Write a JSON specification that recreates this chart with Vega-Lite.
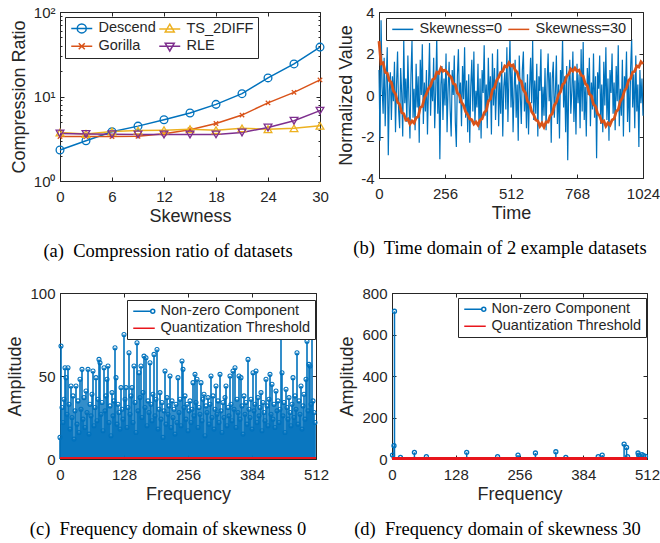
{
"$schema": "https://vega.github.io/schema/vega-lite/v6.json",
"padding": {"left": 6, "top": 4, "right": 0, "bottom": 0},
"background": "white",
"config": {
  "font": "Liberation Sans",
  "view": {"stroke": "#262626", "strokeWidth": 1},
  "axis": {"labelFont": "Liberation Sans", "labelFontSize": 15, "labelColor": "#262626", "titleFont": "Liberation Sans", "titleFontSize": 18, "titleFontWeight": "normal", "titleColor": "#262626", "tickColor": "#262626", "domainColor": "#262626", "tickSize": -4, "grid": false, "labelFlush": false, "labelOverlap": false},
  "axisX": {"labelPadding": 12, "titlePadding": 3},
  "axisY": {"labelPadding": 9, "titlePadding": 5},
  "legend": {"labelFont": "Liberation Sans", "labelFontSize": 14.5, "labelColor": "#262626", "strokeColor": "#262626", "fillColor": "white", "padding": 4, "title": null, "orient": "none", "symbolSize": 100, "symbolStrokeWidth": 1.5, "labelOffset": 15, "rowPadding": 2, "columnPadding": 0},
  "title": {"font": "Liberation Serif", "fontSize": 18.5, "fontWeight": "normal", "color": "black", "orient": "bottom", "offset": 17}
},
"datasets": {
  "ratio": [
    {"s":0,"m":"Descend","r":2.33},{"s":3,"m":"Descend","r":2.99},{"s":6,"m":"Descend","r":3.82},{"s":9,"m":"Descend","r":4.46},{"s":12,"m":"Descend","r":5.3},{"s":15,"m":"Descend","r":6.37},{"s":18,"m":"Descend","r":8.07},{"s":21,"m":"Descend","r":10.8},{"s":24,"m":"Descend","r":16.6},{"s":27,"m":"Descend","r":24.3},{"s":30,"m":"Descend","r":38.4},
    {"s":0,"m":"Gorilla","r":3.36},{"s":3,"m":"Gorilla","r":3.36},{"s":6,"m":"Gorilla","r":3.36},{"s":9,"m":"Gorilla","r":3.38},{"s":12,"m":"Gorilla","r":3.62},{"s":15,"m":"Gorilla","r":4.04},{"s":18,"m":"Gorilla","r":4.79},{"s":21,"m":"Gorilla","r":6.03},{"s":24,"m":"Gorilla","r":8.4},{"s":27,"m":"Gorilla","r":11.2},{"s":30,"m":"Gorilla","r":15.7},
    {"s":0,"m":"TS_2DIFF","r":3.75},{"s":3,"m":"TS_2DIFF","r":3.6},{"s":6,"m":"TS_2DIFF","r":3.86},{"s":9,"m":"TS_2DIFF","r":3.95},{"s":12,"m":"TS_2DIFF","r":4.0},{"s":15,"m":"TS_2DIFF","r":4.1},{"s":18,"m":"TS_2DIFF","r":4.0},{"s":21,"m":"TS_2DIFF","r":4.2},{"s":24,"m":"TS_2DIFF","r":4.1},{"s":27,"m":"TS_2DIFF","r":4.2},{"s":30,"m":"TS_2DIFF","r":4.5},
    {"s":0,"m":"RLE","r":3.65},{"s":3,"m":"RLE","r":3.6},{"s":6,"m":"RLE","r":3.58},{"s":9,"m":"RLE","r":3.56},{"s":12,"m":"RLE","r":3.55},{"s":15,"m":"RLE","r":3.55},{"s":18,"m":"RLE","r":3.56},{"s":21,"m":"RLE","r":3.75},{"s":24,"m":"RLE","r":4.3},{"s":27,"m":"RLE","r":5.16},{"s":30,"m":"RLE","r":6.8}
  ],
  "blue": [
    {"t":0,"v":1.2},{"t":4,"v":-2.2},{"t":8,"v":3.6},{"t":12,"v":0.4},{"t":16,"v":-0.9},{"t":20,"v":1.8},{"t":24,"v":-1.5},{"t":28,"v":0.7},{"t":32,"v":2.3},{"t":36,"v":-2.9},{"t":40,"v":0.2},{"t":44,"v":1.1},{"t":48,"v":-1.2},{"t":52,"v":0.9},{"t":56,"v":-0.3},{"t":60,"v":1.6},{"t":64,"v":-1.8},{"t":68,"v":0.5},{"t":72,"v":2.1},{"t":76,"v":-0.7},{"t":80,"v":-1.6},{"t":84,"v":1.3},{"t":88,"v":0.1},{"t":92,"v":-2.0},{"t":96,"v":2.7},{"t":100,"v":-0.4},{"t":104,"v":0.8},{"t":108,"v":-1.3},{"t":112,"v":1.9},{"t":116,"v":-0.2},{"t":120,"v":-2.1},{"t":124,"v":1.0},{"t":128,"v":2.6},{"t":132,"v":-1.1},{"t":136,"v":0.3},{"t":140,"v":-1.7},{"t":144,"v":1.5},{"t":148,"v":-0.6},{"t":152,"v":0.9},{"t":156,"v":-2.3},{"t":160,"v":1.7},{"t":164,"v":0.0},{"t":168,"v":2.45},{"t":172,"v":-1.4},{"t":176,"v":0.6},{"t":180,"v":-0.8},{"t":184,"v":1.2},{"t":188,"v":-1.9},{"t":192,"v":0.4},{"t":196,"v":2.5},{"t":200,"v":-1.0},{"t":204,"v":0.7},{"t":208,"v":-0.3},{"t":212,"v":1.8},{"t":216,"v":-1.6},{"t":220,"v":0.2},{"t":224,"v":2.8},{"t":228,"v":-0.9},{"t":232,"v":1.1},{"t":236,"v":-3.1},{"t":240,"v":0.5},{"t":244,"v":1.4},{"t":248,"v":-1.2},{"t":252,"v":0.8},
    {"t":256,"v":-0.5},{"t":260,"v":2.0},{"t":264,"v":-1.8},{"t":268,"v":0.3},{"t":272,"v":1.6},{"t":276,"v":-0.7},{"t":280,"v":-2.0},{"t":284,"v":1.2},{"t":288,"v":0.0},{"t":292,"v":1.9},{"t":296,"v":-1.3},{"t":300,"v":-2.5},{"t":304,"v":0.9},{"t":308,"v":2.2},{"t":312,"v":-0.4},{"t":316,"v":0.6},{"t":320,"v":-1.5},{"t":324,"v":1.4},{"t":328,"v":-0.2},{"t":332,"v":2.3},{"t":336,"v":-1.1},{"t":340,"v":0.7},{"t":344,"v":-1.8},{"t":348,"v":1.0},{"t":352,"v":-2.3},{"t":356,"v":0.4},{"t":360,"v":1.7},{"t":364,"v":-0.8},{"t":368,"v":2.1},{"t":372,"v":-1.4},{"t":376,"v":0.2},{"t":380,"v":-0.6},{"t":384,"v":1.5},{"t":388,"v":-1.7},{"t":392,"v":0.8},{"t":396,"v":-2.1},{"t":400,"v":1.2},{"t":404,"v":0.1},{"t":408,"v":2.4},{"t":412,"v":-1.0},{"t":416,"v":0.5},{"t":420,"v":-1.6},{"t":424,"v":1.8},{"t":428,"v":-0.3},{"t":432,"v":0.9},{"t":436,"v":-1.9},{"t":440,"v":2.0},{"t":444,"v":-0.5},{"t":448,"v":1.3},{"t":452,"v":-1.2},{"t":456,"v":0.3},{"t":460,"v":2.2},{"t":464,"v":-1.5},{"t":468,"v":0.6},{"t":472,"v":-0.9},{"t":476,"v":1.6},{"t":480,"v":-2.0},{"t":484,"v":0.4},{"t":488,"v":1.1},{"t":492,"v":-0.7},{"t":496,"v":2.3},{"t":500,"v":-1.3},{"t":504,"v":0.8},{"t":508,"v":2.7},
    {"t":512,"v":-0.6},{"t":516,"v":1.4},{"t":520,"v":-1.8},{"t":524,"v":0.2},{"t":528,"v":1.7},{"t":532,"v":-1.1},{"t":536,"v":0.5},{"t":540,"v":-2.2},{"t":544,"v":1.9},{"t":548,"v":0.0},{"t":552,"v":-1.4},{"t":556,"v":1.2},{"t":560,"v":2.1},{"t":564,"v":-0.8},{"t":568,"v":0.6},{"t":572,"v":-1.6},{"t":576,"v":1.0},{"t":580,"v":-1.9},{"t":584,"v":0.3},{"t":588,"v":1.8},{"t":592,"v":-0.4},{"t":596,"v":2.6},{"t":600,"v":-1.2},{"t":604,"v":0.7},{"t":608,"v":-0.9},{"t":612,"v":1.5},{"t":616,"v":-2.0},{"t":620,"v":0.9},{"t":624,"v":0.2},{"t":628,"v":2.2},{"t":632,"v":-1.5},{"t":636,"v":0.4},{"t":640,"v":-1.0},{"t":644,"v":1.3},{"t":648,"v":-1.7},{"t":652,"v":0.6},{"t":656,"v":2.0},{"t":660,"v":-0.3},{"t":664,"v":1.1},{"t":668,"v":-2.3},{"t":672,"v":0.8},{"t":676,"v":1.6},{"t":680,"v":-1.1},{"t":684,"v":0.1},{"t":688,"v":1.9},{"t":692,"v":-1.4},{"t":696,"v":0.5},{"t":700,"v":-2.1},{"t":704,"v":1.2},{"t":708,"v":0.3},{"t":712,"v":2.7},{"t":716,"v":-0.6},{"t":720,"v":0.9},{"t":724,"v":-1.8},{"t":728,"v":1.4},{"t":732,"v":-3.15},{"t":736,"v":0.6},{"t":740,"v":1.7},{"t":744,"v":-0.9},{"t":748,"v":0.2},{"t":752,"v":2.1},{"t":756,"v":-1.3},{"t":760,"v":0.7},{"t":764,"v":-1.9},
    {"t":768,"v":1.5},{"t":772,"v":-0.4},{"t":776,"v":1.0},{"t":780,"v":-1.6},{"t":784,"v":2.2},{"t":788,"v":-0.8},{"t":792,"v":2.55},{"t":796,"v":-1.2},{"t":800,"v":0.4},{"t":804,"v":-2.0},{"t":808,"v":1.3},{"t":812,"v":0.0},{"t":816,"v":1.8},{"t":820,"v":-1.5},{"t":824,"v":0.6},{"t":828,"v":-0.7},{"t":832,"v":2.0},{"t":836,"v":-1.1},{"t":840,"v":0.9},{"t":844,"v":-3.05},{"t":848,"v":1.1},{"t":852,"v":0.3},{"t":856,"v":1.9},{"t":860,"v":-1.4},{"t":864,"v":0.5},{"t":868,"v":-1.8},{"t":872,"v":1.6},{"t":876,"v":-0.5},{"t":880,"v":2.3},{"t":884,"v":-1.2},{"t":888,"v":0.8},{"t":892,"v":-2.2},{"t":896,"v":1.2},{"t":900,"v":0.1},{"t":904,"v":2.0},{"t":908,"v":-0.9},{"t":912,"v":0.6},{"t":916,"v":-1.7},{"t":920,"v":1.4},{"t":924,"v":-0.3},{"t":928,"v":2.4},{"t":932,"v":-1.5},{"t":936,"v":0.3},{"t":940,"v":-1.0},{"t":944,"v":1.7},{"t":948,"v":-2.0},{"t":952,"v":0.9},{"t":956,"v":0.2},{"t":960,"v":2.1},{"t":964,"v":-1.3},{"t":968,"v":0.7},{"t":972,"v":-1.8},{"t":976,"v":1.3},{"t":980,"v":2.7},{"t":984,"v":-0.6},{"t":988,"v":1.0},{"t":992,"v":-1.6},{"t":996,"v":1.9},{"t":1000,"v":-0.8},{"t":1004,"v":0.5},{"t":1008,"v":-2.5},{"t":1012,"v":1.2},{"t":1016,"v":-0.4},{"t":1020,"v":0.8},{"t":1024,"v":-1.0}
  ],
  "orange": [
    {"t":0,"v":2.6},{"t":8,"v":1.5},{"t":16,"v":1.55},{"t":24,"v":1.1},{"t":32,"v":1.05},{"t":40,"v":0.7},{"t":48,"v":0.6},{"t":56,"v":0.2},{"t":64,"v":0.05},{"t":72,"v":-0.35},{"t":80,"v":-0.45},{"t":88,"v":-0.85},{"t":96,"v":-0.9},{"t":104,"v":-1.2},{"t":112,"v":-1.15},{"t":120,"v":-1.4},{"t":128,"v":-1.25},{"t":136,"v":-1.35},{"t":144,"v":-1.1},{"t":152,"v":-1.05},{"t":160,"v":-0.6},{"t":168,"v":-0.55},{"t":176,"v":-0.15},{"t":184,"v":0.05},{"t":192,"v":0.3},{"t":200,"v":0.45},{"t":208,"v":0.75},{"t":216,"v":0.8},{"t":224,"v":1.1},{"t":232,"v":1.05},{"t":240,"v":1.3},{"t":248,"v":1.15},
    {"t":256,"v":1.2},{"t":264,"v":1.1},{"t":272,"v":0.95},{"t":280,"v":0.85},{"t":288,"v":0.55},{"t":296,"v":0.5},{"t":304,"v":0.1},{"t":312,"v":0.0},{"t":320,"v":-0.35},{"t":328,"v":-0.5},{"t":336,"v":-0.8},{"t":344,"v":-0.95},{"t":352,"v":-1.15},{"t":360,"v":-1.2},{"t":368,"v":-1.4},{"t":376,"v":-1.3},{"t":384,"v":-1.45},{"t":392,"v":-1.2},{"t":400,"v":-1.15},{"t":408,"v":-0.85},{"t":416,"v":-0.75},{"t":424,"v":-0.3},{"t":432,"v":-0.2},{"t":440,"v":0.25},{"t":448,"v":0.35},{"t":456,"v":0.7},{"t":464,"v":0.85},{"t":472,"v":1.1},{"t":480,"v":1.15},{"t":488,"v":1.4},{"t":496,"v":1.35},{"t":504,"v":1.55},
    {"t":512,"v":1.4},{"t":520,"v":1.45},{"t":528,"v":1.2},{"t":536,"v":1.1},{"t":544,"v":0.75},{"t":552,"v":0.65},{"t":560,"v":0.25},{"t":568,"v":0.1},{"t":576,"v":-0.3},{"t":584,"v":-0.4},{"t":592,"v":-0.8},{"t":600,"v":-0.95},{"t":608,"v":-1.2},{"t":616,"v":-1.25},{"t":624,"v":-1.5},{"t":632,"v":-1.35},{"t":640,"v":-1.55},{"t":648,"v":-1.3},{"t":656,"v":-1.3},{"t":664,"v":-1.0},{"t":672,"v":-0.9},{"t":680,"v":-0.5},{"t":688,"v":-0.35},{"t":696,"v":0.0},{"t":704,"v":0.15},{"t":712,"v":0.5},{"t":720,"v":0.6},{"t":728,"v":0.9},{"t":736,"v":1.0},{"t":744,"v":1.25},{"t":752,"v":1.15},{"t":760,"v":1.3},
    {"t":768,"v":1.15},{"t":776,"v":1.2},{"t":784,"v":0.95},{"t":792,"v":0.9},{"t":800,"v":0.55},{"t":808,"v":0.45},{"t":816,"v":0.05},{"t":824,"v":-0.05},{"t":832,"v":-0.45},{"t":840,"v":-0.55},{"t":848,"v":-0.9},{"t":856,"v":-1.0},{"t":864,"v":-1.3},{"t":872,"v":-1.25},{"t":880,"v":-1.5},{"t":888,"v":-1.35},{"t":896,"v":-1.45},{"t":904,"v":-1.2},{"t":912,"v":-1.15},{"t":920,"v":-0.8},{"t":928,"v":-0.7},{"t":936,"v":-0.3},{"t":944,"v":-0.15},{"t":952,"v":0.2},{"t":960,"v":0.35},{"t":968,"v":0.7},{"t":976,"v":0.8},{"t":984,"v":1.1},{"t":992,"v":1.15},{"t":1000,"v":1.4},{"t":1008,"v":1.35},{"t":1016,"v":1.6},{"t":1024,"v":1.5}
  ],
  "freq0": [
    {"f":0,"a":13},{"f":2,"a":68},{"f":4,"a":31},{"f":6,"a":22},{"f":8,"a":36},{"f":10,"a":55},{"f":12,"a":49},{"f":14,"a":27},{"f":16,"a":55},{"f":18,"a":33},{"f":20,"a":18},{"f":22,"a":44},{"f":24,"a":25},{"f":26,"a":38},{"f":28,"a":12},{"f":30,"a":29},{"f":32,"a":44},{"f":34,"a":21},{"f":36,"a":35},{"f":38,"a":16},{"f":40,"a":48},{"f":42,"a":30},{"f":44,"a":54},{"f":46,"a":24},{"f":48,"a":37},{"f":50,"a":19},{"f":52,"a":41},{"f":54,"a":28},{"f":56,"a":54},{"f":58,"a":15},{"f":60,"a":33},{"f":62,"a":26},{"f":64,"a":39},{"f":66,"a":53},{"f":68,"a":20},{"f":70,"a":31},{"f":72,"a":49},{"f":74,"a":23},{"f":76,"a":36},{"f":78,"a":60},{"f":80,"a":58},{"f":82,"a":27},{"f":84,"a":34},{"f":86,"a":17},{"f":88,"a":55},{"f":90,"a":29},{"f":92,"a":38},{"f":94,"a":48},{"f":96,"a":56},{"f":98,"a":22},{"f":100,"a":32},{"f":102,"a":14},{"f":104,"a":40},{"f":106,"a":26},{"f":108,"a":35},{"f":110,"a":67},{"f":112,"a":49},{"f":114,"a":21},{"f":116,"a":33},{"f":118,"a":28},{"f":120,"a":18},{"f":122,"a":43},{"f":124,"a":30},{"f":126,"a":24},
    {"f":128,"a":75},{"f":130,"a":36},{"f":132,"a":43},{"f":134,"a":19},{"f":136,"a":31},{"f":138,"a":64},{"f":140,"a":27},{"f":142,"a":38},{"f":144,"a":43},{"f":146,"a":22},{"f":148,"a":56},{"f":150,"a":34},{"f":152,"a":16},{"f":154,"a":70},{"f":156,"a":29},{"f":158,"a":52},{"f":160,"a":37},{"f":162,"a":56},{"f":164,"a":25},{"f":166,"a":40},{"f":168,"a":62},{"f":170,"a":31},{"f":172,"a":61},{"f":174,"a":20},{"f":176,"a":35},{"f":178,"a":28},{"f":180,"a":58},{"f":182,"a":33},{"f":184,"a":23},{"f":186,"a":39},{"f":188,"a":63},{"f":190,"a":26},{"f":192,"a":36},{"f":194,"a":66},{"f":196,"a":18},{"f":198,"a":30},{"f":200,"a":40},{"f":202,"a":24},{"f":204,"a":34},{"f":206,"a":13},{"f":208,"a":29},{"f":210,"a":53},{"f":212,"a":21},{"f":214,"a":37},{"f":216,"a":27},{"f":218,"a":32},{"f":220,"a":50},{"f":222,"a":19},{"f":224,"a":35},{"f":226,"a":25},{"f":228,"a":30},{"f":230,"a":15},{"f":232,"a":33},{"f":234,"a":22},{"f":236,"a":49},{"f":238,"a":28},{"f":240,"a":36},{"f":242,"a":20},{"f":244,"a":59},{"f":246,"a":54},{"f":248,"a":31},{"f":250,"a":38},{"f":252,"a":24},{"f":254,"a":33},
    {"f":256,"a":17},{"f":258,"a":29},{"f":260,"a":35},{"f":262,"a":22},{"f":264,"a":30},{"f":266,"a":46},{"f":268,"a":26},{"f":270,"a":51},{"f":272,"a":34},{"f":274,"a":48},{"f":276,"a":19},{"f":278,"a":31},{"f":280,"a":27},{"f":282,"a":46},{"f":284,"a":23},{"f":286,"a":36},{"f":288,"a":39},{"f":290,"a":14},{"f":292,"a":32},{"f":294,"a":28},{"f":296,"a":37},{"f":298,"a":21},{"f":300,"a":33},{"f":302,"a":50},{"f":304,"a":25},{"f":306,"a":38},{"f":308,"a":18},{"f":310,"a":30},{"f":312,"a":44},{"f":314,"a":27},{"f":316,"a":35},{"f":318,"a":22},{"f":320,"a":51},{"f":322,"a":29},{"f":324,"a":16},{"f":326,"a":34},{"f":328,"a":25},{"f":330,"a":37},{"f":332,"a":44},{"f":334,"a":20},{"f":336,"a":31},{"f":338,"a":26},{"f":340,"a":50},{"f":342,"a":33},{"f":344,"a":23},{"f":346,"a":53},{"f":348,"a":30},{"f":350,"a":55},{"f":352,"a":19},{"f":354,"a":36},{"f":356,"a":28},{"f":358,"a":50},{"f":360,"a":24},{"f":362,"a":49},{"f":364,"a":32},{"f":366,"a":15},{"f":368,"a":38},{"f":370,"a":27},{"f":372,"a":34},{"f":374,"a":21},{"f":376,"a":60},{"f":378,"a":30},{"f":380,"a":25},{"f":382,"a":36},
    {"f":384,"a":18},{"f":386,"a":52},{"f":388,"a":29},{"f":390,"a":33},{"f":392,"a":53},{"f":394,"a":22},{"f":396,"a":37},{"f":398,"a":26},{"f":400,"a":31},{"f":402,"a":40},{"f":404,"a":17},{"f":406,"a":34},{"f":408,"a":28},{"f":410,"a":23},{"f":412,"a":48},{"f":414,"a":32},{"f":416,"a":20},{"f":418,"a":36},{"f":420,"a":51},{"f":422,"a":27},{"f":424,"a":45},{"f":426,"a":24},{"f":428,"a":33},{"f":430,"a":19},{"f":432,"a":41},{"f":434,"a":29},{"f":436,"a":35},{"f":438,"a":22},{"f":440,"a":30},{"f":442,"a":75},{"f":444,"a":52},{"f":446,"a":26},{"f":448,"a":34},{"f":450,"a":16},{"f":452,"a":42},{"f":454,"a":31},{"f":456,"a":24},{"f":458,"a":37},{"f":460,"a":28},{"f":462,"a":20},{"f":464,"a":33},{"f":466,"a":49},{"f":468,"a":25},{"f":470,"a":38},{"f":472,"a":30},{"f":474,"a":64},{"f":476,"a":21},{"f":478,"a":35},{"f":480,"a":27},{"f":482,"a":44},{"f":484,"a":18},{"f":486,"a":32},{"f":488,"a":39},{"f":490,"a":24},{"f":492,"a":48},{"f":494,"a":71},{"f":496,"a":29},{"f":498,"a":57},{"f":500,"a":56},{"f":502,"a":33},{"f":504,"a":78},{"f":506,"a":35},{"f":508,"a":28},{"f":510,"a":22}
  ],
  "freq30": [
    {"f":1,"a":19},{"f":4,"a":64},{"f":5,"a":712},{"f":17,"a":8},{"f":45,"a":32},{"f":69,"a":11},{"f":150,"a":32},{"f":212,"a":11},{"f":253,"a":19},{"f":288,"a":29},{"f":329,"a":35},{"f":349,"a":8},{"f":414,"a":11},{"f":422,"a":19},{"f":466,"a":72},{"f":471,"a":56},{"f":473,"a":11},{"f":494,"a":29},{"f":495,"a":19},{"f":502,"a":21},{"f":505,"a":16},{"f":509,"a":13}
  ]
},
"resolve": {"scale": {"color": "independent", "shape": "independent"}},
"vconcat": [
  {
    "resolve": {"scale": {"color": "independent", "shape": "independent"}},
    "hconcat": [
      {
        "width": 260, "height": 169,
        "data": {"name": "ratio"},
        "title": {"text": "(a)\u00a0 Compression ratio of datasets", "dx": -22},
        "resolve": {"axis": {"x": "independent", "y": "independent"}},
        "layer": [
          {
            "mark": {"type": "line", "strokeWidth": 1.5},
            "encoding": {
              "x": {"field": "s", "type": "quantitative", "scale": {"domain": [0, 30], "nice": false}, "axis": {"title": "Skewness", "values": [0, 6, 12, 18, 24, 30]}},
              "y": {"field": "r", "type": "quantitative", "scale": {"type": "log", "domain": [1, 100], "nice": false}, "axis": {"title": "Compression Ratio", "values": [1,2,3,4,5,6,7,8,9,10,20,30,40,50,60,70,80,90,100], "labelExpr": "datum.value == 1 ? '10⁰' : datum.value == 10 ? '10¹' : datum.value == 100 ? '10²' : ''", "tickSize": {"condition": {"test": "datum.value == 1 || datum.value == 10 || datum.value == 100", "value": -4}, "value": -2}}},
              "color": {"field": "m", "type": "nominal", "scale": {"domain": ["Descend", "TS_2DIFF", "Gorilla", "RLE"], "range": ["#0072BD", "#EDB120", "#D95319", "#7E2F8E"]},
                "legend": {"legendX": 5, "legendY": 5, "columns": 2, "direction": "horizontal"}}
            }
          },
          {
            "transform": [{"filter": "datum.m == 'Descend'"}],
            "mark": {"type": "point", "filled": false, "strokeWidth": 1.3, "size": 60, "opacity": 1, "shape": "circle"},
            "encoding": {
              "x": {"field": "s", "type": "quantitative", "axis": {"orient": "top", "title": null, "labels": false, "domain": false, "values": [0, 6, 12, 18, 24, 30]}},
              "y": {"field": "r", "type": "quantitative", "scale": {"type": "log", "domain": [1, 100], "nice": false}, "axis": {"orient": "right", "title": null, "labels": false, "domain": false, "values": [1,2,3,4,5,6,7,8,9,10,20,30,40,50,60,70,80,90,100], "tickSize": {"condition": {"test": "datum.value == 1 || datum.value == 10 || datum.value == 100", "value": -4}, "value": -2}}},
              "color": {"field": "m", "type": "nominal"}
            }
          },
          {
            "transform": [{"filter": "datum.m == 'Gorilla'"}],
            "mark": {"type": "point", "filled": false, "strokeWidth": 1.3, "size": 40, "opacity": 1, "shape": "M-0.7,-0.7L0.7,0.7M-0.7,0.7L0.7,-0.7"},
            "encoding": {
              "x": {"field": "s", "type": "quantitative", "axis": null},
              "y": {"field": "r", "type": "quantitative", "axis": null},
              "color": {"field": "m", "type": "nominal"}
            }
          },
          {
            "transform": [{"filter": "datum.m == 'TS_2DIFF'"}],
            "mark": {"type": "point", "filled": false, "strokeWidth": 1.3, "size": 60, "opacity": 1, "shape": "triangle-up"},
            "encoding": {
              "x": {"field": "s", "type": "quantitative", "axis": null},
              "y": {"field": "r", "type": "quantitative", "axis": null},
              "color": {"field": "m", "type": "nominal"}
            }
          },
          {
            "transform": [{"filter": "datum.m == 'RLE'"}],
            "mark": {"type": "point", "filled": false, "strokeWidth": 1.3, "size": 60, "opacity": 1, "shape": "triangle-down"},
            "encoding": {
              "x": {"field": "s", "type": "quantitative", "axis": null},
              "y": {"field": "r", "type": "quantitative", "axis": null},
              "color": {"field": "m", "type": "nominal"}
            }
          },
          {
            "transform": [{"filter": "false"}],
            "mark": {"type": "point", "filled": false, "opacity": 1},
            "encoding": {
              "color": {"field": "m", "type": "nominal"},
              "shape": {"field": "m", "type": "nominal", "scale": {"domain": ["Descend", "TS_2DIFF", "Gorilla", "RLE"], "range": ["M-1,0H3.2M0.2,0A0.9,0.9,0,1,1,2.0,0A0.9,0.9,0,1,1,0.2,0", "M-1,0H3.2M1.1,-0.95L2.0,0.6L0.2,0.6Z", "M-1,0H3.2M0.5,-0.6L1.7,0.6M0.5,0.6L1.7,-0.6", "M-1,0H3.2M1.1,0.95L2.0,-0.6L0.2,-0.6Z"]},
                "legend": {"legendX": 5, "legendY": 5, "columns": 2, "direction": "horizontal"}}
            }
          }
        ]
      },
      {
        "width": 264, "height": 166,
        "title": {"text": "(b)\u00a0 Time domain of 2 example datasets", "dx": -11},
        "resolve": {"axis": {"x": "independent", "y": "independent"}},
        "layer": [
          {
            "data": {"name": "blue"},
            "mark": {"type": "line", "strokeWidth": 1.2},
            "encoding": {
              "x": {"field": "t", "type": "quantitative", "scale": {"domain": [0, 1024], "nice": false}, "axis": {"title": "Time", "values": [0, 256, 512, 768, 1024], "labelExpr": "'' + datum.value"}},
              "y": {"field": "v", "type": "quantitative", "scale": {"domain": [-4, 4], "nice": false}, "axis": {"title": "Normalized Value", "values": [-4, -2, 0, 2, 4], "labelExpr": "'' + datum.value"}},
              "color": {"datum": "Skewness=0", "scale": {"domain": ["Skewness=0", "Skewness=30"], "range": ["#0072BD", "#D95319"]},
                "legend": {"legendX": 7, "legendY": 6, "direction": "horizontal", "columns": 2, "columnPadding": 2, "symbolType": "M-1,0H3.2"}}
            }
          },
          {
            "data": {"name": "orange"},
            "mark": {"type": "line", "strokeWidth": 2.8},
            "encoding": {
              "x": {"field": "t", "type": "quantitative", "axis": {"orient": "top", "title": null, "labels": false, "domain": false, "values": [0, 256, 512, 768, 1024]}},
              "y": {"field": "v", "type": "quantitative", "axis": {"orient": "right", "title": null, "labels": false, "domain": false, "values": [-4, -2, 0, 2, 4]}},
              "color": {"datum": "Skewness=30"}
            }
          }
        ]
      }
    ],
    "spacing": 59,
    "bounds": "flush"
  },
  {
    "resolve": {"scale": {"color": "independent", "shape": "independent"}},
    "hconcat": [
      {
        "width": 256, "height": 166,
        "data": {"name": "freq0"},
        "title": {"text": "(c)\u00a0 Frequency domain of skewness 0", "dx": -20},
        "resolve": {"axis": {"x": "independent", "y": "independent"}},
        "layer": [
          {
            "mark": {"type": "rule", "strokeWidth": 1.6},
            "encoding": {
              "x": {"field": "f", "type": "quantitative", "scale": {"domain": [0, 512], "nice": false}, "axis": {"title": "Frequency", "values": [0, 128, 256, 384, 512]}},
              "y": {"field": "a", "type": "quantitative", "scale": {"domain": [0, 100], "nice": false}, "axis": {"title": "Amplitude", "values": [0, 50, 100]}},
              "y2": {"datum": 0},
              "color": {"datum": "Non-zero Component", "scale": {"domain": ["Non-zero Component", "Quantization Threshold"], "range": ["#0072BD", "#E8161C"]},
                "legend": {"legendX": 67, "legendY": 7, "direction": "vertical"}}
            }
          },
          {
            "mark": {"type": "point", "filled": false, "size": 16, "strokeWidth": 1.1, "opacity": 1},
            "encoding": {
              "x": {"field": "f", "type": "quantitative", "axis": {"orient": "top", "title": null, "labels": false, "domain": false, "values": [0, 128, 256, 384, 512]}},
              "y": {"field": "a", "type": "quantitative", "axis": {"orient": "right", "title": null, "labels": false, "domain": false, "values": [0, 50, 100]}},
              "color": {"datum": "Non-zero Component"}
            }
          },
          {
            "mark": {"type": "rule", "strokeWidth": 2},
            "encoding": {"y": {"datum": 0.6, "axis": null}, "color": {"datum": "Quantization Threshold"}}
          },
          {
            "transform": [{"filter": "false"}],
            "mark": {"type": "point", "filled": false, "opacity": 1},
            "encoding": {
              "color": {"datum": "Non-zero Component"},
              "shape": {"datum": "Non-zero Component", "scale": {"domain": ["Non-zero Component", "Quantization Threshold"], "range": ["M-1,0H2.5M2.5,0A0.4,0.4,0,1,1,3.3,0A0.4,0.4,0,1,1,2.5,0", "M-1,0H3.3"]},
                "legend": {"legendX": 67, "legendY": 7, "direction": "vertical"}}
            }
          }
        ]
      },
      {
        "width": 255, "height": 166,
        "data": {"name": "freq30"},
        "title": {"text": "(d)\u00a0 Frequency domain of skewness 30", "dx": -22},
        "resolve": {"axis": {"x": "independent", "y": "independent"}},
        "layer": [
          {
            "mark": {"type": "rule", "strokeWidth": 1.5},
            "encoding": {
              "x": {"field": "f", "type": "quantitative", "scale": {"domain": [0, 512], "nice": false}, "axis": {"title": "Frequency", "values": [0, 128, 256, 384, 512]}},
              "y": {"field": "a", "type": "quantitative", "scale": {"domain": [0, 800], "nice": false}, "axis": {"title": "Amplitude", "values": [0, 200, 400, 600, 800]}},
              "y2": {"datum": 0},
              "color": {"datum": "Non-zero Component", "scale": {"domain": ["Non-zero Component", "Quantization Threshold"], "range": ["#0072BD", "#E8161C"]},
                "legend": {"legendX": 66, "legendY": 5, "direction": "vertical"}}
            }
          },
          {
            "mark": {"type": "point", "filled": false, "size": 16, "strokeWidth": 1.3, "opacity": 1},
            "encoding": {
              "x": {"field": "f", "type": "quantitative", "axis": {"orient": "top", "title": null, "labels": false, "domain": false, "values": [0, 128, 256, 384, 512]}},
              "y": {"field": "a", "type": "quantitative", "axis": {"orient": "right", "title": null, "labels": false, "domain": false, "values": [0, 200, 400, 600, 800]}},
              "color": {"datum": "Non-zero Component"}
            }
          },
          {
            "mark": {"type": "rule", "strokeWidth": 2},
            "encoding": {"y": {"datum": 2, "axis": null}, "color": {"datum": "Quantization Threshold"}}
          },
          {
            "transform": [{"filter": "false"}],
            "mark": {"type": "point", "filled": false, "opacity": 1},
            "encoding": {
              "color": {"datum": "Non-zero Component"},
              "shape": {"datum": "Non-zero Component", "scale": {"domain": ["Non-zero Component", "Quantization Threshold"], "range": ["M-1,0H2.5M2.5,0A0.4,0.4,0,1,1,3.3,0A0.4,0.4,0,1,1,2.5,0", "M-1,0H3.3"]},
                "legend": {"legendX": 66, "legendY": 5, "direction": "vertical"}}
            }
          }
        ]
      }
    ],
    "spacing": 76,
    "bounds": "flush"
  }
],
"spacing": 24
}
